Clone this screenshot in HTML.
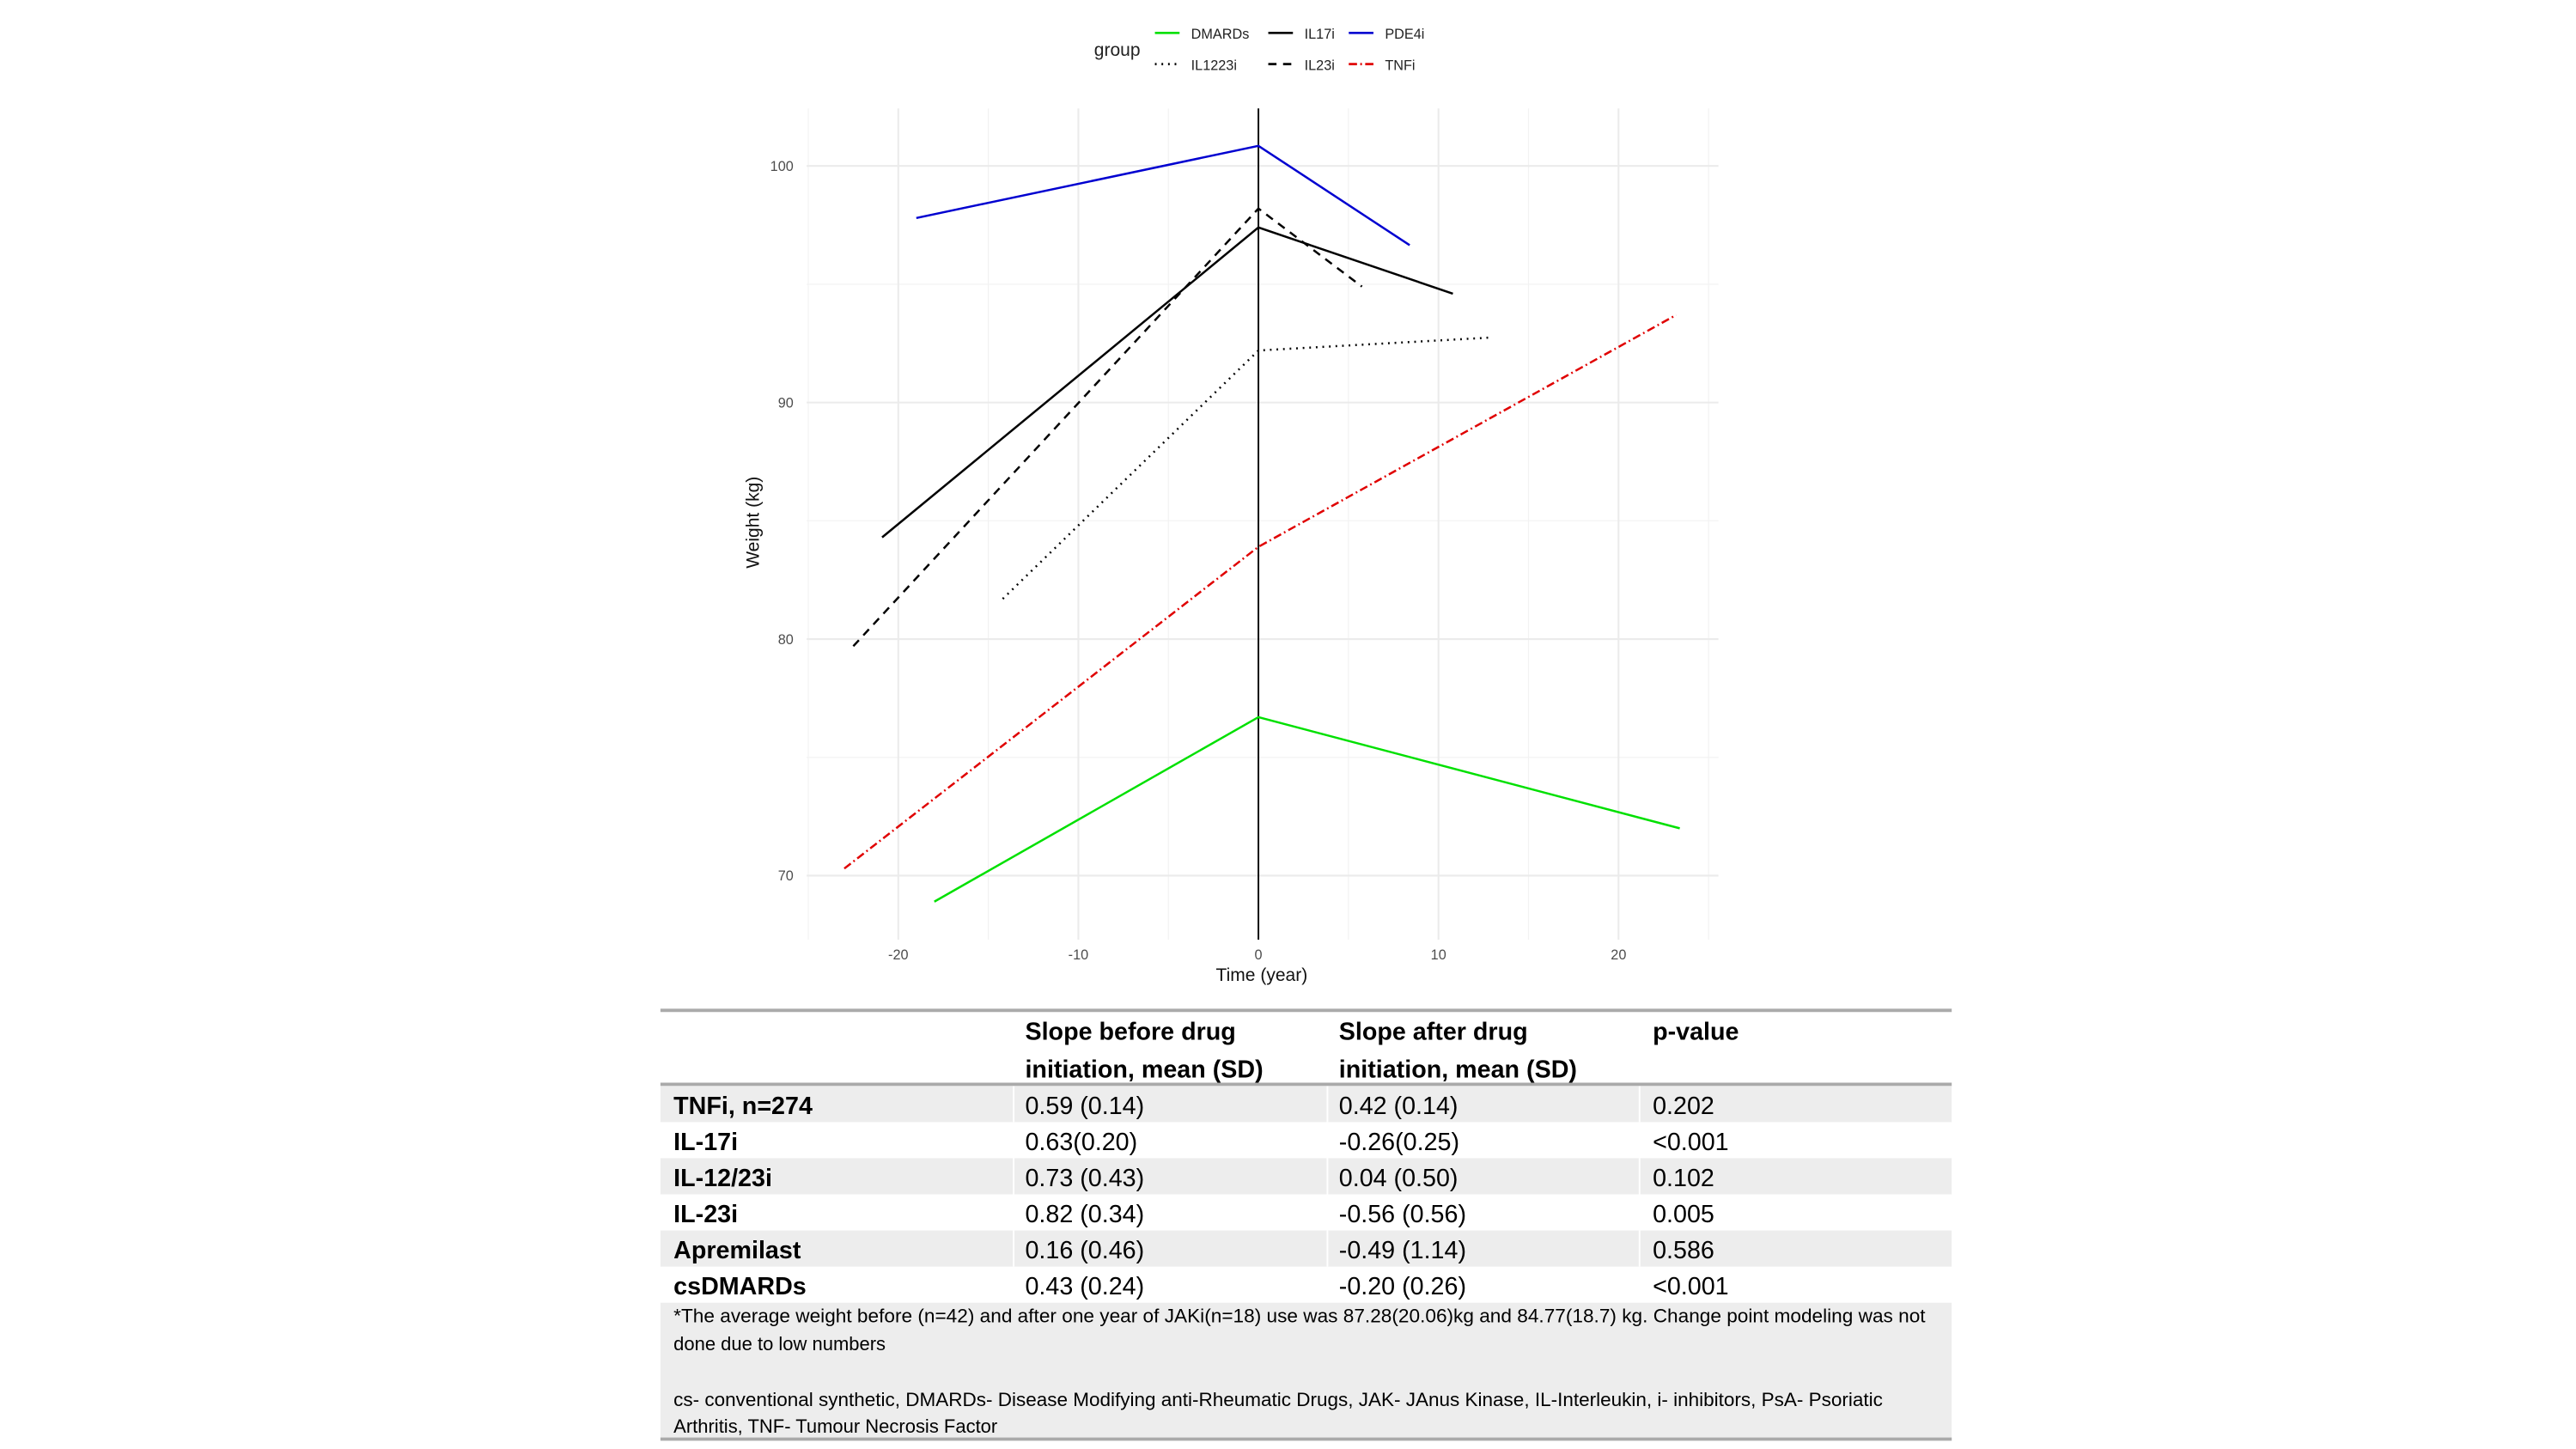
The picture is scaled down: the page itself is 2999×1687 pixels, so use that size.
<!DOCTYPE html>
<html><head><meta charset="utf-8">
<style>
html,body{margin:0;padding:0;background:#fff;}
svg{display:block;}
text{font-family:"Liberation Sans",sans-serif;}
.tb{font-family:"Liberation Sans Narrow","Liberation Sans",sans-serif;}
</style></head>
<body>
<svg id="chart" width="2999" height="1687" viewBox="0 0 1568 882" xmlns="http://www.w3.org/2000/svg">
  <g id="grid"></g>
  <g id="axes"></g>
  <g id="series"></g>
  <g id="legend">
    <text x="666" y="34" font-size="11" fill="#222">group</text>
  </g>
  <text x="768" y="597" font-size="11" text-anchor="middle" fill="#111">Time (year)</text>
  <text transform="translate(462,318) rotate(-90)" font-size="11" text-anchor="middle" fill="#111">Weight (kg)</text>
  <g id="table" class="tb"></g>
</svg>
<script>
const xTicks=[-20,-10,0,10,20];
const xMinor=[-25,-15,-5,5,15,25];
const yTicks=[70,80,90,100];
const yMinor=[75,85,95];
const groups=["DMARDs","IL17i","PDE4i","IL1223i","IL23i","TNFi"];
const timeDMARDs=[-18,0,23.4], wDMARDs=[68.9,76.7,72.0];
const timeIL17i=[-20.9,0,10.8], wIL17i=[84.3,97.4,94.6];
const timePDE4i=[-19,0,8.4], wPDE4i=[97.8,100.85,96.65];
const timeIL1223i=[-14.2,0,13.0], wIL1223i=[81.7,92.2,92.75];
const timeIL23i=[-22.5,0,5.75], wIL23i=[79.7,98.2,94.9];
const timeTNFi=[-23,0,23.2], wTNFi=[70.3,83.9,93.7];

const NS="http://www.w3.org/2000/svg";
const L=491,R=1046,T=66,B=572;
const X=v=>766+v*10.96;
const Y=v=>101+(100-v)*14.4;
function mk(tag,attrs,parent,txt){const e=document.createElementNS(NS,tag);for(const k in attrs)e.setAttribute(k,attrs[k]);if(txt!==undefined)e.textContent=txt;parent.appendChild(e);return e;}
const grid=document.getElementById('grid'),axes=document.getElementById('axes'),ser=document.getElementById('series');
xMinor.forEach(v=>{const e=mk('line',{x1:X(v),x2:X(v),y1:T,y2:B,stroke:'#f2f2f2','stroke-width':0.6},grid);

});
yMinor.forEach(v=>{const e=mk('line',{x1:L,x2:R,y1:Y(v),y2:Y(v),stroke:'#f2f2f2','stroke-width':0.6},grid);

});
xTicks.forEach(v=>{const e=mk('line',{x1:X(v),x2:X(v),y1:T,y2:B,stroke:'#ebebeb','stroke-width':1.1},grid);


const t=mk('text',{x:X(v),y:584,'font-size':8.5,'text-anchor':'middle',fill:'#4d4d4d'},axes,String(v));

});
yTicks.forEach(v=>{const e=mk('line',{x1:L,x2:R,y1:Y(v),y2:Y(v),stroke:'#ebebeb','stroke-width':1.1},grid);


const t=mk('text',{x:483,y:Y(v)+3,'font-size':8.5,'text-anchor':'end',fill:'#4d4d4d'},axes,String(v));

});
const vl=mk('line',{x1:X(0),x2:X(0),y1:T,y2:B,stroke:'#000','stroke-width':1},axes);



const styles={DMARDs:['#00e000',''],IL17i:['#000',''],PDE4i:['#0000d0',''],IL1223i:['#000','1 3'],IL23i:['#000','5 4'],TNFi:['#e00000','5 2 1 2']};
const data={DMARDs:[timeDMARDs,wDMARDs],IL17i:[timeIL17i,wIL17i],PDE4i:[timePDE4i,wPDE4i],IL1223i:[timeIL1223i,wIL1223i],IL23i:[timeIL23i,wIL23i],TNFi:[timeTNFi,wTNFi]};
groups.forEach(g=>{const [xs,ys]=data[g];const pts=xs.map((x,i)=>X(x)+','+Y(ys[i])).join(' ');
const p=mk('polyline',{points:pts,fill:'none',stroke:styles[g][0],'stroke-width':1.3,'stroke-dasharray':styles[g][1]},ser);

});
const leg=document.getElementById('legend');
const lpos=[[703,20],[772,20],[821,20],[703,39],[772,39],[821,39]];
groups.forEach((g,i)=>{const [lx,ly]=lpos[i];
const l=mk('line',{x1:lx,x2:lx+15,y1:ly,y2:ly,stroke:styles[g][0],'stroke-width':1.4,'stroke-dasharray':styles[g][1]},leg);


const t=mk('text',{x:lx+22,y:ly+3.5,'font-size':8.5,fill:'#222'},leg,g);

});

// table
const tb=document.getElementById('table');
const cols=[410,624,815,1006];
const rowsTxt=[["TNFi, n=274","0.59 (0.14)","0.42 (0.14)","0.202"],["IL-17i","0.63(0.20)","-0.26(0.25)","<0.001"],["IL-12/23i","0.73 (0.43)","0.04 (0.50)","0.102"],["IL-23i","0.82 (0.34)","-0.56 (0.56)","0.005"],["Apremilast","0.16 (0.46)","-0.49 (1.14)","0.586"],["csDMARDs","0.43 (0.24)","-0.20 (0.26)","<0.001"]];
mk('rect',{x:402,y:793,width:786,height:83,fill:'#ededed'},tb);
rowsTxt.forEach((r,i)=>{const y0=661+i*22;
if(i%2===0){mk('rect',{x:402,y:y0,width:786,height:22,fill:'#ededed'},tb);
[617,808,998].forEach(x=>mk('line',{x1:x,x2:x,y1:y0,y2:y0+22,stroke:'#fff','stroke-width':1},tb));}
r.forEach((c,j)=>{const t=mk('text',{x:cols[j],y:y0+17,'font-size':15,'font-weight':j===0?'bold':'normal',fill:'#000'},tb,c);

});});
[["Slope before drug","initiation, mean (SD)",624],["Slope after drug","initiation, mean (SD)",815],["p-value","",1006]].forEach(h=>{
const t1=mk('text',{x:h[2],y:633,'font-size':15,'font-weight':'bold',fill:'#000'},tb,h[0]);


if(h[1]){const t2=mk('text',{x:h[2],y:656,'font-size':15,'font-weight':'bold',fill:'#000'},tb,h[1]);

}});
mk('line',{x1:402,x2:1188,y1:615,y2:615,stroke:'#aaa','stroke-width':2},tb);
mk('line',{x1:402,x2:1188,y1:660,y2:660,stroke:'#aaa','stroke-width':2},tb);
mk('line',{x1:402,x2:1188,y1:876,y2:876,stroke:'#aaa','stroke-width':2},tb);
[["*The average weight before (n=42) and after one year of JAKi(n=18) use was 87.28(20.06)kg and 84.77(18.7) kg. Change point modeling was not",805,762],["done due to low numbers",822,0],["cs- conventional synthetic, DMARDs- Disease Modifying anti-Rheumatic Drugs, JAK- JAnus Kinase, IL-Interleukin, i- inhibitors, PsA- Psoriatic",856,736],["Arthritis, TNF- Tumour Necrosis Factor",872,0]].forEach(f=>{
const a={x:410,y:f[1],'font-size':11.5,fill:'#000'};if(f[2]){a.textLength=f[2];a.lengthAdjust='spacingAndGlyphs';}
const t=mk('text',a,tb,f[0]);

});
</script>
</body></html>
